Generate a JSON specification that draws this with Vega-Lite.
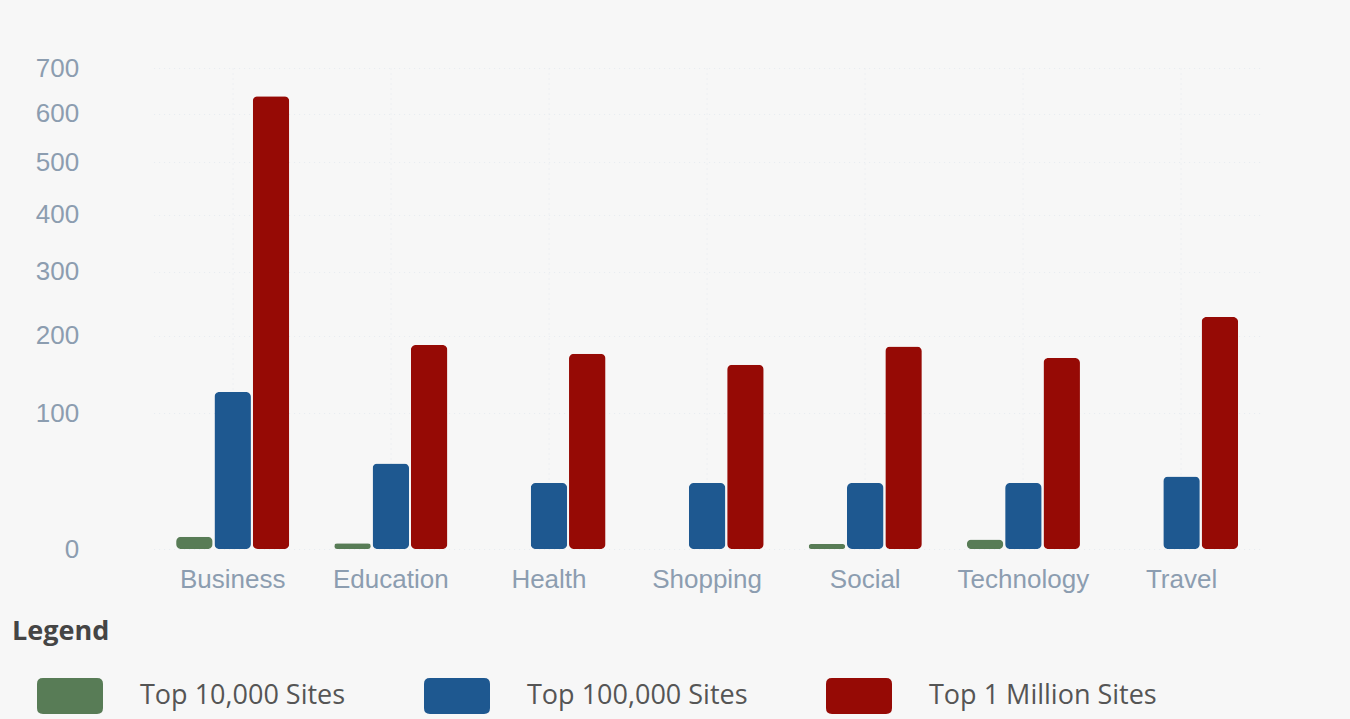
{
  "$schema": "https://vega.github.io/schema/vega-lite/v6.json",
  "width": 1107,
  "height": 481,
  "autosize": "none",
  "padding": {"left": 153.6, "top": 68, "right": 89.4, "bottom": 170},
  "background": "#f7f7f7",
  "config": {"view": {"stroke": null}},
  "data": {
    "values": [
      {"category": "Business", "series": "Top 10,000 Sites", "value": 2.5},
      {"category": "Business", "series": "Top 100,000 Sites", "value": 125},
      {"category": "Business", "series": "Top 1 Million Sites", "value": 638},
      {"category": "Education", "series": "Top 10,000 Sites", "value": 0.76},
      {"category": "Education", "series": "Top 100,000 Sites", "value": 49},
      {"category": "Education", "series": "Top 1 Million Sites", "value": 187},
      {"category": "Health", "series": "Top 10,000 Sites", "value": 0},
      {"category": "Health", "series": "Top 100,000 Sites", "value": 33},
      {"category": "Health", "series": "Top 1 Million Sites", "value": 175},
      {"category": "Shopping", "series": "Top 10,000 Sites", "value": 0},
      {"category": "Shopping", "series": "Top 100,000 Sites", "value": 33},
      {"category": "Shopping", "series": "Top 1 Million Sites", "value": 160},
      {"category": "Social", "series": "Top 10,000 Sites", "value": 0.62},
      {"category": "Social", "series": "Top 100,000 Sites", "value": 33},
      {"category": "Social", "series": "Top 1 Million Sites", "value": 185},
      {"category": "Technology", "series": "Top 10,000 Sites", "value": 1.7},
      {"category": "Technology", "series": "Top 100,000 Sites", "value": 33},
      {"category": "Technology", "series": "Top 1 Million Sites", "value": 169},
      {"category": "Travel", "series": "Top 10,000 Sites", "value": 0},
      {"category": "Travel", "series": "Top 100,000 Sites", "value": 38},
      {"category": "Travel", "series": "Top 1 Million Sites", "value": 228}
    ]
  },
  "mark": {"type": "bar", "cornerRadius": 5},
  "encoding": {
    "x": {
      "field": "category",
      "type": "nominal",
      "sort": null,
      "scale": {"paddingInner": 0.2846, "paddingOuter": 0.1423},
      "axis": {
        "title": null,
        "labelAngle": 0,
        "labelFont": "Liberation Sans",
        "labelFontSize": 26,
        "labelColor": "#8c9db0",
        "labelPadding": 17,
        "ticks": false,
        "domain": false,
        "grid": true,
        "bandPosition": 0.5,
        "gridColor": "#e6ebf0",
        "gridDash": [1, 4],
        "gridWidth": 1
      }
    },
    "xOffset": {
      "field": "series",
      "type": "nominal",
      "scale": {
        "domain": ["Top 10,000 Sites", "Top 100,000 Sites", "Top 1 Million Sites"],
        "paddingInner": 0.047,
        "paddingOuter": 0
      }
    },
    "y": {
      "field": "value",
      "type": "quantitative",
      "scale": {"type": "pow", "exponent": 0.65, "domain": [0, 700], "nice": false, "zero": true},
      "axis": {
        "title": null,
        "values": [0, 100, 200, 300, 400, 500, 600, 700],
        "labelFont": "Liberation Sans",
        "labelFontSize": 26,
        "labelColor": "#8c9db0",
        "labelPadding": 75,
        "ticks": false,
        "domain": false,
        "grid": true,
        "gridColor": "#e6ebf0",
        "gridDash": [1, 4],
        "gridWidth": 1
      }
    },
    "color": {
      "field": "series",
      "type": "nominal",
      "scale": {
        "domain": ["Top 10,000 Sites", "Top 100,000 Sites", "Top 1 Million Sites"],
        "range": ["#587c56", "#1e5890", "#960a05"]
      },
      "legend": {
        "title": "Legend",
        "orient": "none",
        "direction": "horizontal",
        "legendX": -141.6,
        "legendY": 551,
        "titleFont": "Open Sans",
        "titleFontSize": 27,
        "titleFontWeight": "bold",
        "titleColor": "#454545",
        "titlePadding": 17,
        "labelFont": "Open Sans",
        "labelFontSize": 27,
        "labelColor": "#555555",
        "labelLimit": 400,
        "symbolType": "M -0.82 -0.545 L 0.82 -0.545 Q 1 -0.545 1 -0.365 L 1 0.365 Q 1 0.545 0.82 0.545 L -0.82 0.545 Q -1 0.545 -1 0.365 L -1 -0.365 Q -1 -0.545 -0.82 -0.545 Z",
        "symbolSize": 4356,
        "symbolStrokeWidth": 0,
        "symbolOpacity": 1,
        "symbolOffset": 25,
        "labelOffset": 37,
        "columnPadding": 53
      }
    }
  }
}
